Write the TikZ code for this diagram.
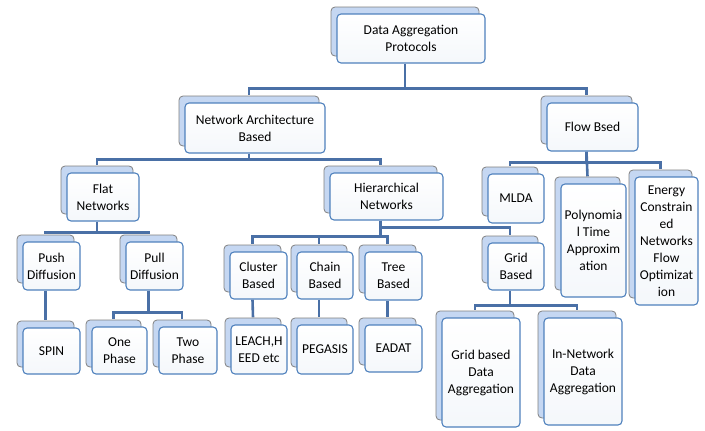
\documentclass[tikz,border=0pt]{standalone}
\usepackage{fontspec}
\setmainfont{Carlito}
\usetikzlibrary{shadows,backgrounds}

\definecolor{boxblue}{RGB}{79,129,189}
\definecolor{linkblue}{RGB}{74,112,166}
\definecolor{backfill}{RGB}{197,215,242}
\definecolor{backdraw}{RGB}{128,128,128}

\begin{document}
\begin{tikzpicture}[x=1pt, y=-1pt,
  font=\fontsize{13.5}{17}\selectfont,
  box/.style={draw=boxblue, line width=1.1pt, rounded corners=4pt,
    top color=white, bottom color=boxblue!6, align=center, inner sep=1pt,
    copy shadow={shadow xshift=-6pt, shadow yshift=7pt,
      fill=backfill, draw=backdraw, line width=0.8pt}},
  link/.style={draw=linkblue, line width=2.6pt}]

  \useasboundingbox (0,0) rectangle (705,431);

  % level 0 and 1
  \node[box, minimum width=148pt, minimum height=49pt] (root) at (411,38.5) {Data Aggregation\\Protocols};
  \node[box, minimum width=140pt, minimum height=50pt] (nab) at (255,128) {Network Architecture\\Based};
  \node[box, minimum width=91pt, minimum height=48pt] (flow) at (592.5,127) {Flow Bsed};

  % level 2
  \node[box, minimum width=72pt, minimum height=48pt] (flat) at (103,197) {Flat\\Networks};
  \node[box, minimum width=113pt, minimum height=47pt] (hier) at (386.5,196.5) {Hierarchical\\Networks};
  \node[box, minimum width=56pt, minimum height=49pt] (mlda) at (516,198.5) {MLDA};
  \node[box, minimum width=65pt, minimum height=113pt] (poly) at (593.5,240.5) {Polynomia\\l Time\\Approxim\\ation};
  \node[box, minimum width=63pt, minimum height=128pt] (energy) at (666.5,241) {Energy\\Constrain\\ed\\Networks\\Flow\\Optimizat\\ion};

  % level 3
  \node[box, minimum width=57pt, minimum height=48pt] (push) at (51.5,266) {Push\\Diffusion};
  \node[box, minimum width=57pt, minimum height=48pt] (pull) at (154.5,266) {Pull\\Diffusion};
  \node[box, minimum width=57pt, minimum height=47pt] (cluster) at (258.5,275.5) {Cluster\\Based};
  \node[box, minimum width=56pt, minimum height=47pt] (chain) at (325,275.5) {Chain\\Based};
  \node[box, minimum width=57pt, minimum height=48pt] (tree) at (393.5,276) {Tree\\Based};
  \node[box, minimum width=56pt, minimum height=47pt] (grid) at (516,266.5) {Grid\\Based};

  % level 4
  \node[box, minimum width=57pt, minimum height=46pt] (spin) at (51.5,351) {SPIN};
  \node[box, minimum width=55pt, minimum height=47pt] (one) at (119.5,350.5) {One\\Phase};
  \node[box, minimum width=58pt, minimum height=47pt] (two) at (188,350.5) {Two\\Phase};
  \node[box, minimum width=56pt, minimum height=49pt] (leach) at (259,349.5) {LEACH,H\\EED etc};
  \node[box, minimum width=56pt, minimum height=49pt] (pegasis) at (325,349.5) {PEGASIS};
  \node[box, minimum width=57pt, minimum height=47pt] (eadat) at (393.5,348.5) {EADAT};
  \node[box, minimum width=78pt, minimum height=109pt] (gda) at (481,372.5) {Grid based\\Data\\Aggregation};
  \node[box, minimum width=78pt, minimum height=107pt] (inda) at (583,371.5) {In-Network\\Data\\Aggregation};

  % connectors (bus lines end on the shadow boxes)
  \begin{scope}[on background layer]
  \draw[link] ([xshift=-6pt]root.south) -- ++(0,25) -| ([xshift=-6pt,yshift=7pt]nab.north);
  \draw[link] ([xshift=-6pt]root.south) -- ++(0,25) -| ([xshift=-6pt,yshift=7pt]flow.north);

  \draw[link] ([xshift=-6pt]nab.south) -- ++(0,6) -| ([xshift=-6pt,yshift=7pt]flat.north);
  \draw[link] ([xshift=-6pt]nab.south) -- ++(0,6) -| ([xshift=-6pt,yshift=7pt]hier.north);

  \draw[link] ([xshift=-6pt]flow.south) -- ++(0,11) -| ([xshift=-6pt,yshift=7pt]mlda.north);
  \draw[link] ([xshift=-6pt]flow.south) -- ([xshift=-6pt,yshift=7pt]poly.north);
  \draw[link] ([xshift=-6pt]flow.south) -- ++(0,11) -| ([xshift=-6pt,yshift=7pt]energy.north);

  \draw[link] ([xshift=-6pt]flat.south) -- ++(0,11) -| ([xshift=-6pt,yshift=7pt]push.north);
  \draw[link] ([xshift=-6pt]flat.south) -- ++(0,11) -| ([xshift=-6pt,yshift=7pt]pull.north);

  \draw[link] ([xshift=-6pt]hier.south) -- ++(0,7) -| ([xshift=-6pt,yshift=7pt]grid.north);
  \draw[link] ([xshift=-6pt]hier.south) -- ++(0,16) -| ([xshift=-6pt,yshift=7pt]cluster.north);
  \draw[link] ([xshift=-6pt]hier.south) -- ++(0,16) -| ([xshift=-6pt,yshift=7pt]chain.north);
  \draw[link] ([xshift=-6pt]hier.south) -- ++(0,16) -| ([xshift=-6pt,yshift=7pt]tree.north);

  \draw[link] ([xshift=-6pt]push.south) -- ([xshift=-6pt,yshift=7pt]spin.north);
  \draw[link] ([xshift=-6pt]pull.south) -- ++(0,22) -| ([xshift=-6pt,yshift=7pt]one.north);
  \draw[link] ([xshift=-6pt]pull.south) -- ++(0,22) -| ([xshift=-6pt,yshift=7pt]two.north);

  \draw[link] ([xshift=-6pt]cluster.south) -- ([xshift=-6pt,yshift=7pt]leach.north);
  \draw[link] ([xshift=-6pt]chain.south) -- ([xshift=-6pt,yshift=7pt]pegasis.north);
  \draw[link] ([xshift=-6pt]tree.south) -- ([xshift=-6pt,yshift=7pt]eadat.north);

  \draw[link] ([xshift=-6pt]grid.south) -- ++(0,15) -| ([xshift=-6pt,yshift=7pt]gda.north);
  \draw[link] ([xshift=-6pt]grid.south) -- ++(0,15) -| ([xshift=-6pt,yshift=7pt]inda.north);
  \end{scope}

\end{tikzpicture}
\end{document}
